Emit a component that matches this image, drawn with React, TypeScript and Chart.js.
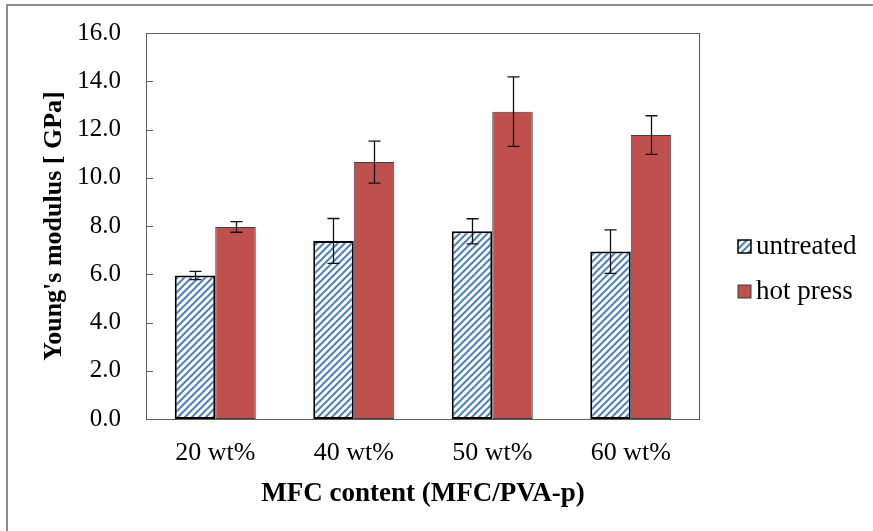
import React, { useEffect, useRef } from 'react';
import { Chart, registerables } from 'chart.js';

Chart.register(...registerables);

// Young's modulus by MFC content, mean and standard deviation (GPa)
const categories = ['20 wt%', '40 wt%', '50 wt%', '60 wt%'];
const untreated = [5.95, 7.38, 7.78, 6.94];
const untreatedErr = [0.17, 0.93, 0.52, 0.9];
const hotPress = [7.96, 10.65, 12.74, 11.77];
const hotPressErr = [0.22, 0.87, 1.44, 0.8];
const seriesNames = ['untreated', 'hot press'];

const yTitle = "Young's modulus [ GPa]";
const xTitle = 'MFC content (MFC/PVA-p)';

const SERIF = '"Liberation Serif", "Times New Roman", serif';
const HOT_RED = '#c0504d';
const HATCH_BLUE = '#4f81bd';

function makeHatch(): CanvasPattern | string {
  const n = 7;
  const c = document.createElement('canvas');
  c.width = n;
  c.height = n;
  const g = c.getContext('2d');
  if (!g) return '#ffffff';
  g.fillStyle = '#ffffff';
  g.fillRect(0, 0, n, n);
  g.strokeStyle = HATCH_BLUE;
  g.lineWidth = 2;
  g.beginPath();
  g.moveTo(-1, n + 1);
  g.lineTo(n + 1, -1);
  g.moveTo(-1, 1);
  g.lineTo(1, -1);
  g.moveTo(n - 1, n + 1);
  g.lineTo(n + 1, n - 1);
  g.stroke();
  return g.createPattern(c, 'repeat') || '#ffffff';
}

export default function App() {
  const canvasRef = useRef<HTMLCanvasElement | null>(null);

  useEffect(() => {
    document.body.style.margin = '0';
    const canvas = canvasRef.current;
    if (!canvas) return;
    const hatch = makeHatch();
    const errors = [untreatedErr, hotPressErr];

    // Outer frame of the figure
    const framePlugin = {
      id: 'figureFrame',
      beforeDraw(chart: any) {
        const ctx = chart.ctx;
        ctx.save();
        ctx.fillStyle = '#ffffff';
        ctx.fillRect(0, 0, chart.width, chart.height);
        ctx.strokeStyle = '#8c8c8c';
        ctx.lineWidth = 2;
        ctx.beginPath();
        ctx.moveTo(7, chart.height);
        ctx.lineTo(7, 5);
        ctx.lineTo(chart.width, 5);
        ctx.stroke();
        ctx.restore();
      },
    };

    // Plot-area box, inward y ticks and error bars
    const overlayPlugin = {
      id: 'plotOverlay',
      afterDatasetsDraw(chart: any) {
        const ctx = chart.ctx;
        const { left, right, top, bottom } = chart.chartArea;
        const y = chart.scales.y;
        ctx.save();
        ctx.lineWidth = 1;
        ctx.strokeStyle = '#5f5f5f';
        ctx.strokeRect(left + 0.5, top + 0.5, right - left - 1, bottom - top);
        ctx.beginPath();
        y.ticks.forEach((t: any) => {
          const py = Math.round(y.getPixelForValue(t.value)) + 0.5;
          ctx.moveTo(left, py);
          ctx.lineTo(left + 7, py);
        });
        ctx.stroke();

        ctx.strokeStyle = '#111111';
        ctx.lineWidth = 1.3;
        chart.data.datasets.forEach((ds: any, i: number) => {
          const meta = chart.getDatasetMeta(i);
          meta.data.forEach((bar: any, j: number) => {
            const v = ds.data[j];
            const e = errors[i][j];
            const x = Math.round(bar.x) + 0.5;
            const yt = y.getPixelForValue(v + e);
            const yb = y.getPixelForValue(v - e);
            ctx.beginPath();
            ctx.moveTo(x, yt);
            ctx.lineTo(x, yb);
            ctx.moveTo(x - 6, yt);
            ctx.lineTo(x + 6, yt);
            ctx.moveTo(x - 6, yb);
            ctx.lineTo(x + 6, yb);
            ctx.stroke();
          });
        });
        ctx.restore();
      },
    };

    // Legend to the right of the plot
    const legendPlugin = {
      id: 'sideLegend',
      afterDraw(chart: any) {
        const ctx = chart.ctx;
        const fills = [hatch, HOT_RED];
        const borders = ['#000000', '#3f3f3f'];
        const rows = [247, 292];
        ctx.save();
        ctx.font = `27px ${SERIF}`;
        ctx.textBaseline = 'middle';
        ctx.fillStyle = '#000000';
        seriesNames.forEach((name, i) => {
          const cy = rows[i];
          ctx.fillStyle = fills[i] as any;
          ctx.fillRect(738, cy - 7, 13, 13);
          ctx.strokeStyle = borders[i];
          ctx.lineWidth = i === 0 ? 1.5 : 1;
          ctx.strokeRect(738, cy - 7, 13, 13);
          ctx.fillStyle = '#000000';
          ctx.fillText(name, 756, cy);
        });
        ctx.restore();
      },
    };

    const chart = new Chart(canvas, {
      type: 'bar',
      data: {
        labels: categories,
        datasets: [
          {
            label: seriesNames[0],
            data: untreated,
            backgroundColor: hatch as any,
            borderColor: '#000000',
            borderWidth: 2,
            borderSkipped: false,
          },
          {
            label: seriesNames[1],
            data: hotPress,
            backgroundColor: HOT_RED,
            borderColor: '#3f3f3f',
            borderWidth: 1,
            borderSkipped: false,
          },
        ],
      },
      options: {
        responsive: false,
        animation: false,
        layout: { padding: { top: 33, right: 173, left: 0, bottom: 0 } },
        datasets: { bar: { categoryPercentage: 0.585, barPercentage: 1 } },
        plugins: {
          legend: { display: false },
          tooltip: { enabled: false },
        },
        scales: {
          x: {
            grid: { display: false, drawTicks: false },
            border: { display: false },
            ticks: { font: { family: SERIF, size: 26 }, color: '#000000', padding: 19 },
            title: {
              display: true,
              text: xTitle,
              font: { family: SERIF, size: 27, weight: 'bold' },
              color: '#000000',
              padding: { top: 0, bottom: 21 },
            },
            afterFit: (s: any) => {
              s.height = 112;
              s.paddingLeft = 0;
              s.paddingRight = 0;
            },
          },
          y: {
            min: 0,
            max: 16,
            grid: { display: false, drawTicks: false },
            border: { display: false },
            ticks: {
              stepSize: 2,
              font: { family: SERIF, size: 25 },
              color: '#000000',
              padding: 25,
              callback: (v: any) => Number(v).toFixed(1),
            },
            title: {
              display: true,
              text: yTitle,
              font: { family: SERIF, size: 26, weight: 'bold' },
              color: '#000000',
              padding: { top: 39, bottom: 0 },
            },
            afterFit: (s: any) => {
              s.width = 146;
              s.paddingTop = 0;
              s.paddingBottom = 0;
            },
          },
        },
      },
      plugins: [framePlugin, overlayPlugin, legendPlugin],
    } as any);

    return () => chart.destroy();
  }, []);

  return (
    <div style={{ width: 873, height: 531 }}>
      <canvas ref={canvasRef} width={873} height={531} style={{ display: 'block' }} />
    </div>
  );
}
